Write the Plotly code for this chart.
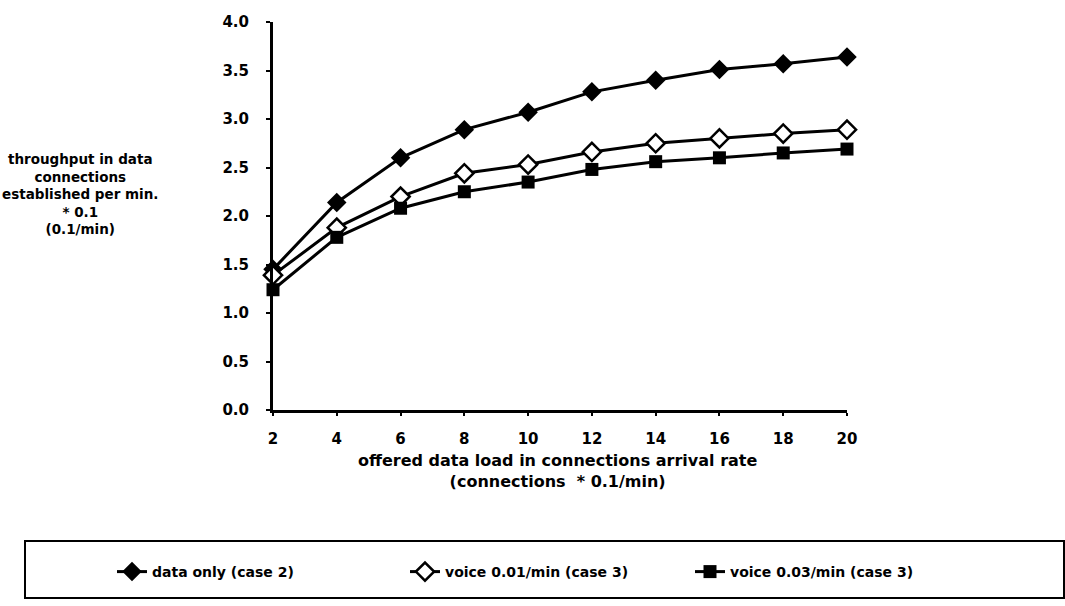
import plotly.graph_objects as go

x_load = [2, 4, 6, 8, 10, 12, 14, 16, 18, 20]
data_only = [1.45, 2.14, 2.60, 2.89, 3.07, 3.28, 3.40, 3.51, 3.57, 3.64]
voice_001 = [1.39, 1.88, 2.20, 2.44, 2.53, 2.66, 2.75, 2.80, 2.85, 2.89]
voice_003 = [1.24, 1.78, 2.08, 2.25, 2.35, 2.48, 2.56, 2.60, 2.65, 2.69]
series_names = ["data only (case 2)", "voice 0.01/min (case 3)", "voice 0.03/min (case 3)"]
y_ticks = [0, 0.5, 1.0, 1.5, 2.0, 2.5, 3.0, 3.5, 4.0]
y_tick_text = ["0.0", "0.5", "1.0", "1.5", "2.0", "2.5", "3.0", "3.5", "4.0"]

FONT = "DejaVu Sans"
L, R, T, B = 273, 218, 22, 196
PW = 1065 - L - R
PH = 606 - T - B


def px_x(p):
    return (p - L) / PW


def px_y(p):
    return (606 - B - p) / PH


fig = go.Figure()
fig.add_trace(go.Scatter(
    x=x_load, y=data_only, name=series_names[0], mode="lines+markers",
    line=dict(color="black", width=3),
    marker=dict(symbol="diamond", size=15, color="black"),
    cliponaxis=False, legend="legend",
))
fig.add_trace(go.Scatter(
    x=x_load, y=voice_001, name=series_names[1], mode="lines+markers",
    line=dict(color="black", width=3),
    marker=dict(symbol="diamond", size=14, color="white", line=dict(color="black", width=2.5)),
    cliponaxis=False, legend="legend2",
))
fig.add_trace(go.Scatter(
    x=x_load, y=voice_003, name=series_names[2], mode="lines+markers",
    line=dict(color="black", width=3),
    marker=dict(symbol="square", size=13, color="black"),
    cliponaxis=False, legend="legend3",
))

tick_font = dict(family=FONT, size=15, color="black", weight="bold")
fig.update_xaxes(
    range=[2, 20], tickvals=x_load, ticktext=[str(v) for v in x_load],
    showline=True, linecolor="black", linewidth=3,
    ticks="outside", ticklen=3, tickwidth=2, tickcolor="black",
    showgrid=False, zeroline=False,
    tickfont=tick_font, ticklabelstandoff=10,
)
fig.update_yaxes(
    range=[0, 4], tickvals=y_ticks, ticktext=y_tick_text,
    showline=True, linecolor="black", linewidth=3,
    ticks="outside", ticklen=4, tickwidth=2, tickcolor="black",
    showgrid=False, zeroline=False,
    tickfont=tick_font, ticklabelstandoff=14,
)

ytitle_font = dict(family=FONT, size=13.5, color="black", weight="bold")
xtitle_font = dict(family=FONT, size=16, color="black", weight="bold")
legend_font = dict(family=FONT, size=14, color="black", weight="bold")

fig.add_annotation(
    xref="paper", yref="paper", x=px_x(80), y=px_y(194),
    text="throughput in data<br>connections<br>established per min.<br>* 0.1<br>(0.1/min)",
    showarrow=False, align="center", xanchor="center", yanchor="middle",
    font=ytitle_font,
)
fig.add_annotation(
    xref="paper", yref="paper", x=px_x(557), y=px_y(471),
    text="offered data load in connections arrival rate<br>(connections  * 0.1/min)",
    showarrow=False, align="center", xanchor="center", yanchor="middle",
    font=xtitle_font,
)

# Legend box
fig.add_shape(
    type="rect", xref="paper", yref="paper",
    x0=px_x(25), x1=px_x(1064), y0=px_y(598), y1=px_y(541),
    line=dict(color="black", width=2), fillcolor="rgba(0,0,0,0)",
)

leg_common = dict(
    orientation="h", xanchor="left", yanchor="middle", y=px_y(572),
    font=legend_font, bgcolor="rgba(0,0,0,0)", borderwidth=0, itemwidth=30,
)
fig.update_layout(
    width=1065, height=606,
    margin=dict(l=L, r=R, t=T, b=B),
    paper_bgcolor="white", plot_bgcolor="white",
    font=dict(family=FONT, size=13, color="black"),
    showlegend=True,
    legend=dict(x=px_x(112), **leg_common),
    legend2=dict(x=px_x(405), **leg_common),
    legend3=dict(x=px_x(690), **leg_common),
)

fig.write_html("out.html")
